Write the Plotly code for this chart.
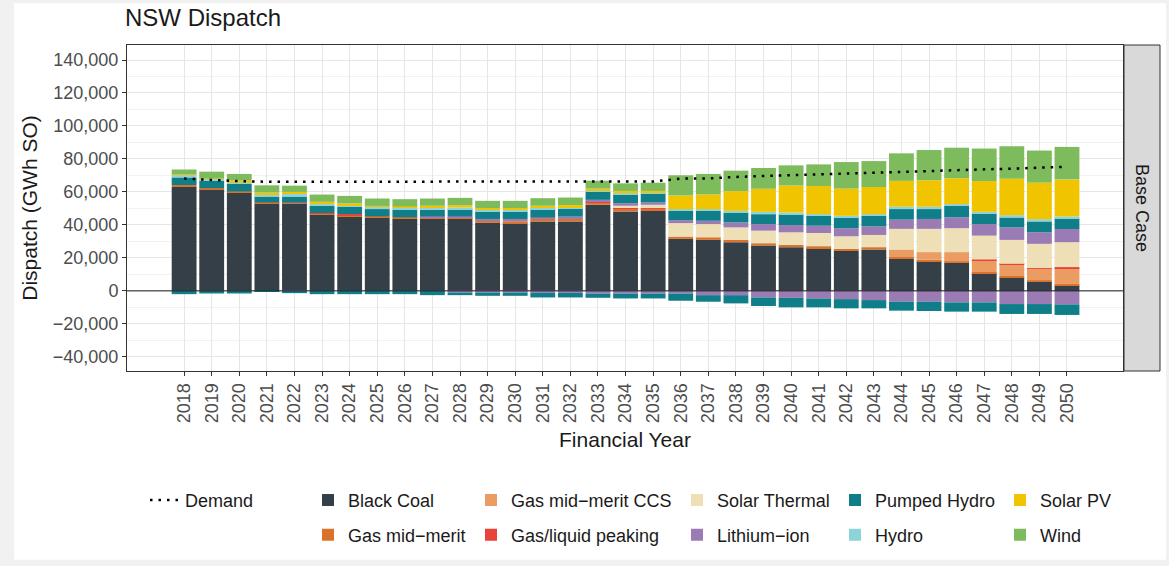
import plotly.graph_objects as go

# ---------------- data (thousand GWh) ----------------
years = list(range(2018, 2051))

black_coal = [63.0, 61.7, 59.7, 53.0, 53.0, 46.2, 45.2,
              44.2, 43.6, 43.6, 44.0, 41.2, 41.0,
              42.0, 42.0, 52.2, 48.2, 48.6,
              31.5, 30.9, 29.5, 27.5, 26.5,
              25.9, 24.3, 25.1, 19.5, 18.1,
              17.1, 10.8, 8.2, 5.4, 3.4]
gas_mid_merit = [1.2, 0.6, 0.6, 0.6, 0.3, 0.6, 0.8,
                 1.0, 1.0, 0.6, 0.4, 1.4, 1.2,
                 1.6, 2.0, 1.3, 1.9, 1.1,
                 1.4, 1.6, 1.4, 1.4, 1.4,
                 1.2, 1.2, 1.4, 1.0, 0.8,
                 0.8, 0.6, 0.8, 1.0, 0.8]
gas_ccs = [0, 0, 0, 0, 0, 0, 0,
           0, 0, 0, 0, 0, 0,
           0, 0, 0, 0, 0,
           0, 0, 0, 0, 0,
           0, 0, 0, 4.6, 4.6,
           5.6, 7.0, 6.8, 7.0, 9.6]
gas_peaking = [0, 0, 0, 0, 0, 0.4, 0.6,
               0, 0, 0, 0, 0, 0,
               0, 0, 0.5, 0.5, 0.5,
               0, 0, 0, 0, 0,
               0, 0, 0, 0, 0,
               0, 0.6, 0.6, 0.4, 0.6]
solar_thermal = [0, 0, 0, 0, 0, 0, 0,
                 0, 0, 0, 0, 0, 0,
                 0, 0, 0, 1.0, 2.0,
                 8.2, 8.0, 7.6, 7.6, 7.6,
                 8.0, 7.6, 7.4, 12.5, 14.1,
                 14.5, 14.5, 14.5, 14.7, 15.1]
lithium_ion = [0, 0, 0, 0, 0.3, 0, 0,
               0, 0, 1.0, 0.8, 1.0, 1.4,
               1.0, 1.0, 1.2, 1.6, 1.4,
               1.8, 2.0, 3.0, 4.0, 4.4,
               4.4, 4.8, 5.2, 5.6, 6.0,
               6.6, 7.0, 7.6, 7.0, 8.0]
lithium_ion_charge = [0, 0, 0, 0, -0.4, 0, 0,
                      0, 0, 0, -1.0, -1.0, -1.0,
                      -1.2, -1.2, -1.6, -1.6, -1.6,
                      -1.6, -2.6, -2.6, -4.0, -4.2,
                      -4.6, -5.0, -5.6, -6.6, -6.6,
                      -7.0, -7.0, -8.0, -8.0, -8.2]
pumped_hydro = [4.6, 4.6, 4.6, 3.6, 3.6, 4.4, 4.4,
                4.4, 4.6, 4.0, 4.4, 4.6, 4.6,
                5.0, 5.0, 4.8, 5.4, 5.4,
                5.6, 6.0, 6.0, 6.0, 6.6,
                6.0, 6.6, 6.4, 6.4, 6.0,
                7.0, 6.4, 6.0, 6.6, 6.6]
pumped_hydro_charge = [-2.0, -1.6, -1.6, -0.6, -1.0, -2.0, -2.0,
                       -2.0, -2.0, -2.6, -1.6, -2.0, -2.0,
                       -2.8, -2.8, -2.6, -3.0, -3.0,
                       -4.4, -4.0, -5.0, -5.2, -5.8,
                       -5.4, -5.6, -5.0, -5.4, -5.6,
                       -5.6, -5.6, -6.0, -6.0, -6.4]
hydro = [1.6, 1.0, 0.6, 1.4, 1.6, 1.0, 1.0,
         1.4, 1.2, 1.4, 1.0, 1.0, 1.0,
         1.0, 0.8, 0.6, 0.6, 0.6,
         1.0, 1.0, 1.0, 1.4, 1.0,
         1.0, 1.0, 1.0, 1.4, 1.4,
         1.0, 1.0, 1.4, 1.4, 1.0]
solar_pv = [0.4, 0.4, 1.4, 1.0, 1.2, 1.4, 1.0,
            0.6, 0.8, 1.0, 1.4, 1.0, 1.0,
            1.0, 1.2, 1.4, 1.4, 1.0,
            8.4, 9.0, 12.0, 14.0, 16.4,
            17.1, 16.5, 16.5, 15.7, 16.1,
            15.7, 18.7, 22.1, 22.1, 22.5]
wind = [2.8, 4.0, 4.0, 4.4, 3.8, 4.4, 4.6,
        4.4, 4.4, 4.4, 4.4, 4.4, 4.4,
        4.6, 4.6, 4.8, 4.6, 5.0,
        12.2, 12.4, 12.4, 12.6, 12.2,
        13.1, 16.1, 15.7, 16.7, 18.3,
        18.5, 19.7, 19.7, 19.5, 19.7]
demand = [68.1, 67.3, 66.5, 66.2, 66.2, 66.2, 66.2,
          66.2, 66.2, 66.2, 66.2, 66.3, 66.3,
          66.3, 66.3, 66.3, 66.3, 66.3,
          68.1, 68.2, 69.1, 69.7, 70.5,
          70.7, 71.1, 71.7, 72.1, 72.5,
          73.1, 73.7, 74.1, 74.7, 75.3]

def gwh(values):
    return [v * 1000 for v in values]

# ---------------- styling ----------------
FONT = "Liberation Sans, Arial, sans-serif"
C = {
    "Black Coal": "#353F47",
    "Gas mid\u2212merit": "#D9722A",
    "Gas mid\u2212merit CCS": "#EB9C62",
    "Gas/liquid peaking": "#E8423A",
    "Solar Thermal": "#EEDFB6",
    "Lithium\u2212ion": "#9A7BB4",
    "Pumped Hydro": "#0F7E89",
    "Hydro": "#8DD3D7",
    "Solar PV": "#F1C400",
    "Wind": "#7EBB5C",
}

# panel geometry (pixels)
W, H = 1169, 566
PL, PR, PT, PB = 127, 1123, 45, 373
PW, PH = PR - PL, PB - PT

def px_x(px):
    return (px - PL) / PW

def px_y(py):
    return (PB - py) / PH

series = [
    ("Black Coal", black_coal, "legend2", True),
    ("Gas mid\u2212merit", gas_mid_merit, "legend3", True),
    ("Gas mid\u2212merit CCS", gas_ccs, "legend4", True),
    ("Gas/liquid peaking", gas_peaking, "legend5", True),
    ("Solar Thermal", solar_thermal, "legend6", True),
    ("Lithium\u2212ion", lithium_ion, "legend7", True),
    ("Lithium\u2212ion", lithium_ion_charge, "legend7", False),
    ("Pumped Hydro", pumped_hydro, "legend8", True),
    ("Pumped Hydro", pumped_hydro_charge, "legend8", False),
    ("Hydro", hydro, "legend9", True),
    ("Solar PV", solar_pv, "legend10", True),
    ("Wind", wind, "legend11", True),
]

fig = go.Figure()
for name, vals, leg, show in series:
    fig.add_trace(go.Bar(
        x=years, y=gwh(vals), name=name,
        marker=dict(color=C[name], line=dict(width=0)),
        legend=leg, legendgroup=name, showlegend=show,
    ))

fig.add_trace(go.Scatter(
    x=years, y=gwh(demand), name="Demand", mode="lines",
    line=dict(color="black", dash="2.5px,6px", width=2.5),
    legend="legend", showlegend=True,
))

# legend layout: (legend key, text x px, row y px)
legend_pos = [
    ("legend", 187, 503),
    ("legend2", 350, 503),
    ("legend3", 350, 538),
    ("legend4", 513, 503),
    ("legend5", 513, 538),
    ("legend6", 719, 503),
    ("legend7", 719, 538),
    ("legend8", 877, 503),
    ("legend9", 877, 538),
    ("legend10", 1042, 503),
    ("legend11", 1042, 538),
]
legend_cfg = {}
for key, tx, ty in legend_pos:
    legend_cfg[key] = dict(
        x=px_x(tx - 42), y=px_y(ty), xanchor="left", yanchor="middle",
        bgcolor="rgba(0,0,0,0)", borderwidth=0,
        font=dict(family=FONT, size=18, color="#1A1A1A"),
        itemwidth=30, visible=True,
    )

tick_font = dict(family=FONT, size=18, color="#4D4D4D")
title_font = dict(family=FONT, size=21, color="#1A1A1A")

fig.update_layout(
    width=W, height=H,
    margin=dict(l=PL, r=W - PR, t=PT, b=H - PB, pad=0),
    barmode="relative", bargap=0.1,
    paper_bgcolor="#F1F1F1", plot_bgcolor="white",
    showlegend=True,
    font=dict(family=FONT, color="#1A1A1A"),
    title=dict(text="NSW Dispatch", x=125 / W, xref="container", xanchor="left",
               y=1 - 18 / H, yref="container", yanchor="middle",
               font=dict(family=FONT, size=24, color="#1A1A1A")),
    **legend_cfg,
)

fig.update_xaxes(
    range=[2015.93, 2052.03], tickmode="array", tickvals=years,
    ticktext=[str(y) for y in years], tickangle=-90, tickfont=tick_font,
    ticks="outside", ticklen=4, tickcolor="#333333",
    showgrid=True, gridcolor="#E6E6E6", gridwidth=1,
    showline=True, mirror=True, linecolor="#333333", linewidth=1,
    zeroline=False,
    title=dict(text="Financial Year", font=title_font, standoff=10),
)
fig.update_yaxes(
    range=[-48600, 149100], tick0=0, dtick=20000, tickformat=",d",
    tickfont=tick_font, ticks="outside", ticklen=4, tickcolor="#333333",
    showgrid=True, gridcolor="#E6E6E6", gridwidth=1,
    minor=dict(dtick=10000, tick0=0, showgrid=True, gridcolor="#F2F2F2", gridwidth=1),
    showline=True, mirror=True, linecolor="#333333", linewidth=1,
    zeroline=False,
    title=dict(text="Dispatch (GWh SO)", font=title_font, standoff=9),
)

# page frame, zero reference line and facet strip
fig.add_shape(type="rect", xref="paper", yref="paper",
              x0=px_x(14), x1=px_x(1166), y0=px_y(563), y1=px_y(3),
              fillcolor="white", line=dict(width=0), layer="below")
fig.add_shape(type="line", xref="paper", yref="y", x0=0, x1=1, y0=0, y1=0,
              line=dict(color="#1A1A1A", width=1), layer="above")
fig.add_shape(type="rect", xref="paper", yref="paper",
              x0=px_x(1124), x1=px_x(1160), y0=0, y1=1,
              fillcolor="#D9D9D9", line=dict(color="#333333", width=1))
fig.add_annotation(text="Base Case", xref="paper", yref="paper",
                   x=px_x(1142), y=0.5, xanchor="center", yanchor="middle",
                   textangle=90, showarrow=False,
                   font=dict(family=FONT, size=18, color="#1A1A1A"))

fig.write_html("out.html", config={"displayModeBar": False},
               post_script="document.body.style.margin='0';")
